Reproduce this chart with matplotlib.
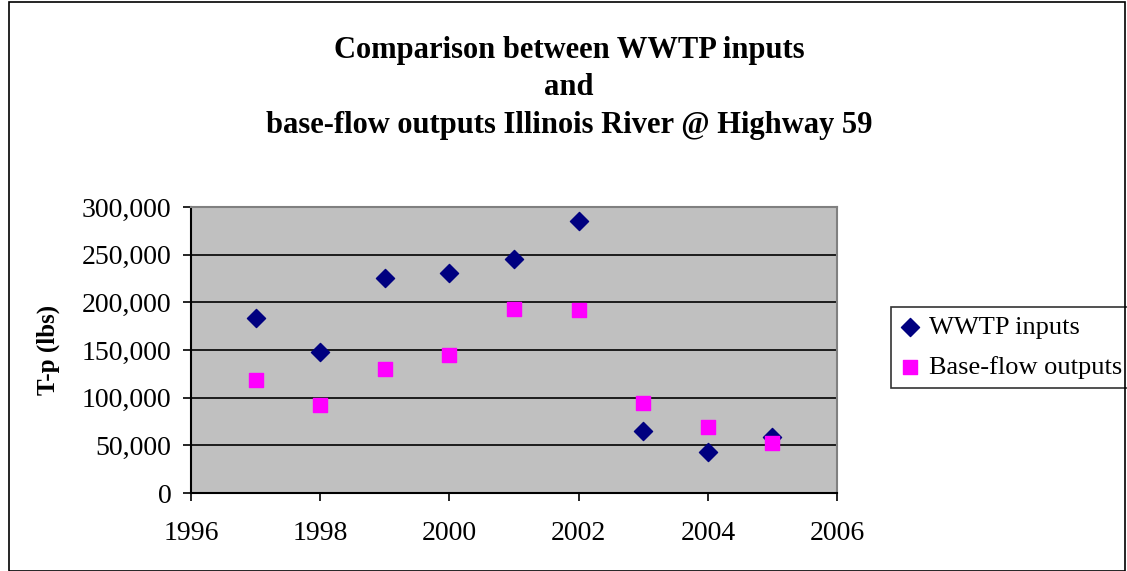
import matplotlib.pyplot as plt
from matplotlib.ticker import FuncFormatter, MultipleLocator
from matplotlib.patches import Rectangle

plt.rcParams['font.family'] = ['Liberation Serif', 'DejaVu Serif']

years = [1997, 1998, 1999, 2000, 2001, 2002, 2003, 2004, 2005]
wwtp_inputs = [184000, 148000, 225500, 230500, 245500, 285000, 65000, 43000, 58500]
baseflow_outputs = [118500, 92000, 130000, 145000, 193000, 191500, 94000, 69000, 52000]

fig = plt.figure(figsize=(11.27, 5.71), dpi=100)
fig.patches.append(Rectangle((0.008, 0.0), 0.99, 0.997, transform=fig.transFigure,
                             fill=False, edgecolor='black', linewidth=1.2))

ax = fig.add_axes([0.1695, 0.1366, 0.5732, 0.5009])
ax.set_facecolor('#C0C0C0')

ax.scatter(years, wwtp_inputs, marker='D', s=85, color='#000080', label='WWTP inputs', zorder=3)
ax.scatter(years, baseflow_outputs, marker='s', s=90, color='#FF00FF', label='Base-flow outputs', zorder=3)

ax.set_xlim(1996, 2006)
ax.set_ylim(0, 300000)
ax.xaxis.set_major_locator(MultipleLocator(2))
ax.yaxis.set_major_locator(MultipleLocator(50000))
ax.yaxis.set_major_formatter(FuncFormatter(lambda v, p: '0' if v == 0 else '{:,.0f}'.format(v)))
ax.grid(axis='y', color='black', linewidth=1.2)
ax.set_axisbelow(True)

ax.spines['left'].set_color('black')
ax.spines['bottom'].set_color('black')
ax.spines['top'].set_color('#808080')
ax.spines['right'].set_color('#808080')
for s in ax.spines.values():
    s.set_linewidth(1.5)

ax.tick_params(axis='both', direction='out', length=6, width=1.2, labelsize=20)
ax.tick_params(axis='y', pad=8)
ax.tick_params(axis='x', pad=14)
ax.set_ylabel('T-p (lbs)', fontsize=18, fontweight='bold', labelpad=16)

fig.text(0.505, 0.846, 'Comparison between WWTP inputs\nand\nbase-flow outputs Illinois River @ Highway 59',
         ha='center', va='center', fontsize=22, fontweight='bold', linespacing=1.37)

leg = ax.legend(loc='center left', bbox_to_anchor=(1.083, 0.51), fontsize=19, frameon=True,
                fancybox=False, edgecolor='black', handletextpad=0.3, handlelength=0.8,
                borderpad=0.35, labelspacing=0.6, borderaxespad=0)
leg.get_frame().set_linewidth(1.2)

fig.savefig('out.png', dpi=100)
